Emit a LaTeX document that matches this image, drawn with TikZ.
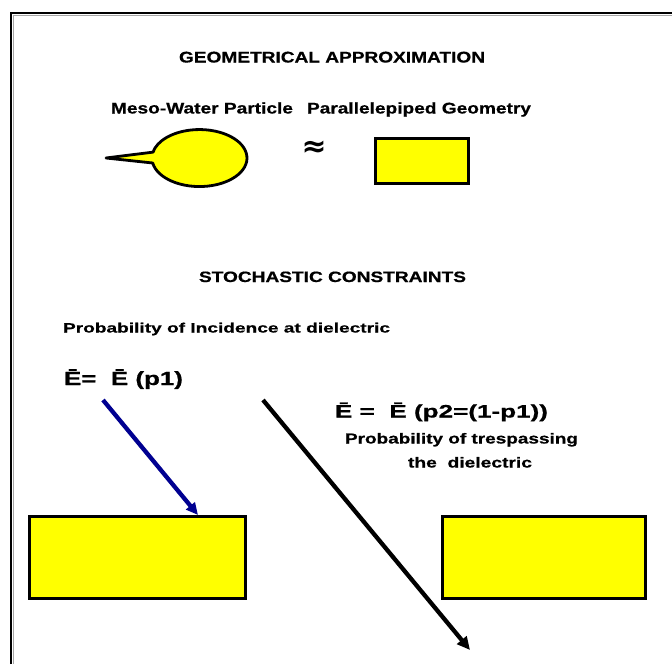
\documentclass[tikz,border=0pt]{standalone}
\usepackage{fontspec}
\setmainfont{Liberation Sans}[BoldFeatures={FakeBold=0.6}]
\newfontfamily\symfont{DejaVu Sans}
\usetikzlibrary{arrows.meta}
\definecolor{yel}{RGB}{255,255,0}
\definecolor{navyarr}{RGB}{0,0,145}
\newcommand{\fitw}[2]{\resizebox{#1}{\height}{#2}}
\begin{document}
\begin{tikzpicture}[x=1pt,y=-1pt,
  lbl/.style={anchor=base west, inner sep=0pt, outer sep=0pt, font=\bfseries},
  ybox/.style={draw=black, fill=yel, line width=3.5pt, inner sep=0pt, outer sep=0pt},
  bubble/.style={draw=black, fill=yel, line width=2.8pt, line join=round},
  bluearr/.style={draw=navyarr, line width=4.3pt, -{Triangle[length=12pt,width=11pt]}},
  blackarr/.style={draw=black, line width=4.3pt, -{Triangle[length=13pt,width=12pt]}}]
\useasboundingbox[fill=white] (0,0) rectangle (672,664);
% frame
\draw[gray!70, line width=1pt] (13,664) -- (13,15) -- (672,15);
\draw[black, line width=1.4pt] (11,664) -- (11,13) -- (672,13);
% texts
\node[lbl] (title) at (179,62.5) {\fitw{306pt}{\fontsize{15.5}{18}\selectfont GEOMETRICAL APPROXIMATION}};
\node[lbl] (meso) at (111,113.5) {\fitw{182pt}{\fontsize{15.5}{18}\selectfont Meso-Water Particle}};
\node[lbl] (para) at (307,113.5) {\fitw{224pt}{\fontsize{15.5}{18}\selectfont Parallelepiped Geometry}};
\node[lbl] (stoch) at (199,282) {\fitw{267pt}{\fontsize{15}{17}\selectfont STOCHASTIC CONSTRAINTS}};
\node[lbl] (probinc) at (63,332.5) {\fitw{327pt}{\fontsize{13.5}{15}\selectfont Probability of Incidence at dielectric}};
\node[lbl] (ep1) at (64,385) {\fitw{119pt}{\fontsize{19}{22}\selectfont Ē=\ \ Ē (p1)}};
\node[lbl] (ep2) at (335,417.5) {\fitw{213pt}{\fontsize{18}{20}\selectfont Ē =\ \ Ē (p2=(1-p1))}};
\node[lbl] (probtr) at (345,443.5) {\fitw{233pt}{\fontsize{14.5}{17}\selectfont Probability of trespassing}};
\node[lbl] (thediel) at (408,467.5) {\fitw{124pt}{\fontsize{14.5}{17}\selectfont the\ \ dielectric}};
% approx sign
\node[anchor=base, inner sep=0pt] (approx) at (314,156) {\resizebox{25pt}{!}{\symfont\bfseries ≈}};
% bubble particle
\filldraw[bubble] (106,158) -- (152.7,163) arc[start angle=170, end angle=-168, x radius=47.5, y radius=28.5] -- cycle;
% boxes
\node[ybox, minimum width=93pt, minimum height=45pt] (pbox) at (422,161) {};
\node[ybox, minimum width=216pt, minimum height=82pt] (lbox) at (137.5,557.5) {};
\node[ybox, minimum width=203pt, minimum height=82pt] (rbox) at (544,557.5) {};
% arrows
\coordinate (bstart) at (103,400);
\coordinate (bend) at (198,515);
\coordinate (kstart) at (263,400);
\coordinate (kend) at (470,650);
\draw[bluearr] (bstart) -- (bend);
\draw[blackarr] (kstart) -- (kend);
\end{tikzpicture}
\end{document}
